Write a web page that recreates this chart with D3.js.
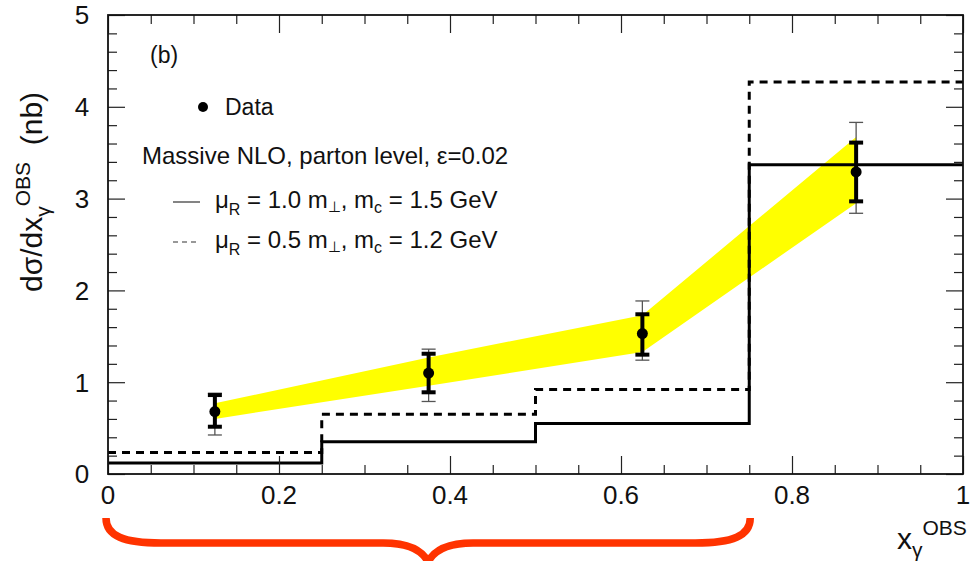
<!DOCTYPE html>
<html>
<head>
<meta charset="utf-8">
<script src="https://cdn.jsdelivr.net/npm/d3@7"></script>
<style>
  body { margin: 0; background: #fff; }
  text { font-family: "Liberation Sans", Arial, sans-serif; fill: #111; }
</style>
</head>
<body>
<div id="chart"></div>
<script>
// bin edges and theory histograms (massive NLO)
var binEdges = [0, 0.25, 0.5, 0.75, 1];
var nloSolid = [0.12, 0.35, 0.55, 3.37];   // mu_R = 1.0 m_T, m_c = 1.5 GeV
var nloDashed = [0.235, 0.65, 0.92, 4.27]; // mu_R = 0.5 m_T, m_c = 1.2 GeV

// data points
var dataX = [0.125, 0.375, 0.625, 0.875];
var dataY = [0.68, 1.10, 1.53, 3.29];
var statLo = [0.515, 0.89, 1.30, 2.97];
var statHi = [0.86, 1.31, 1.74, 3.61];
var totLo = [0.425, 0.79, 1.24, 2.84];
var totHi = [0.88, 1.36, 1.885, 3.83];

// yellow band
var bandLo = [0.60, 0.96, 1.33, 2.95];
var bandHi = [0.77, 1.27, 1.73, 3.67];

var xTicks = [0, 0.2, 0.4, 0.6, 0.8, 1];
var yTicks = [0, 1, 2, 3, 4, 5];

var W = 975, H = 561;
var margin = { top: 15, right: 12, bottom: 87, left: 108 };
var width = W - margin.left - margin.right,
    height = H - margin.top - margin.bottom;

var svg = d3.select("#chart").append("svg")
    .attr("width", W)
    .attr("height", H);

var g = svg.append("g")
    .attr("transform", "translate(" + margin.left + "," + margin.top + ")");

var x = d3.scaleLinear().domain([0, 1]).range([0, width]);
var y = d3.scaleLinear().domain([0, 5]).range([height, 0]);

// band
var band = d3.area()
    .x(function(d, i) { return x(dataX[i]); })
    .y0(function(d, i) { return y(bandLo[i]); })
    .y1(function(d, i) { return y(bandHi[i]); });

g.append("path")
    .datum(dataX)
    .attr("d", band)
    .attr("fill", "#ffff00");

// histograms
var step = d3.line()
    .curve(d3.curveStepAfter)
    .x(function(d) { return x(d[0]); })
    .y(function(d) { return y(d[1]); });

function histPoints(vals) {
    var pts = vals.map(function(v, i) { return [binEdges[i], v]; });
    pts.push([binEdges[binEdges.length - 1], vals[vals.length - 1]]);
    return pts;
}

g.append("path")
    .datum(histPoints(nloDashed))
    .attr("d", step)
    .attr("fill", "none")
    .attr("stroke", "#000")
    .attr("stroke-width", 3)
    .attr("stroke-dasharray", "8,6");

g.append("path")
    .datum(histPoints(nloSolid))
    .attr("d", step)
    .attr("fill", "none")
    .attr("stroke", "#000")
    .attr("stroke-width", 3);

// axes (ticks inside on all four sides)
var xMinor = d3.range(0, 1.0001, 0.05);
var yMinor = d3.range(0, 5.0001, 0.2);

function isMajor(v, step) { return Math.abs(v / step - Math.round(v / step)) < 1e-6; }

g.append("g")
    .attr("transform", "translate(0," + height + ")")
    .call(d3.axisBottom(x).tickValues(xMinor).tickSizeInner(0).tickSizeOuter(0).tickFormat(""))
    .call(function(a) {
        a.selectAll(".tick line")
            .attr("y2", function(d) { return isMajor(d, 0.2) ? -18 : -9; })
            .attr("stroke", "#222").attr("stroke-width", 1.2);
        a.select(".domain").remove();
    });

g.append("g")
    .call(d3.axisTop(x).tickValues(xMinor).tickSizeInner(0).tickSizeOuter(0).tickFormat(""))
    .call(function(a) {
        a.selectAll(".tick line")
            .attr("y2", function(d) { return isMajor(d, 0.2) ? 18 : 9; })
            .attr("stroke", "#222").attr("stroke-width", 1.2);
        a.select(".domain").remove();
    });

g.append("g")
    .call(d3.axisLeft(y).tickValues(yMinor).tickSizeInner(0).tickSizeOuter(0).tickFormat(""))
    .call(function(a) {
        a.selectAll(".tick line")
            .attr("x2", function(d) { return isMajor(d, 1) ? 17 : 9; })
            .attr("stroke", "#222").attr("stroke-width", 1.2);
        a.select(".domain").remove();
    });

g.append("g")
    .attr("transform", "translate(" + width + ",0)")
    .call(d3.axisRight(y).tickValues(yMinor).tickSizeInner(0).tickSizeOuter(0).tickFormat(""))
    .call(function(a) {
        a.selectAll(".tick line")
            .attr("x2", function(d) { return isMajor(d, 1) ? -17 : -9; })
            .attr("stroke", "#222").attr("stroke-width", 1.2);
        a.select(".domain").remove();
    });

// frame
g.append("rect")
    .attr("width", width)
    .attr("height", height)
    .attr("fill", "none")
    .attr("stroke", "#111")
    .attr("stroke-width", 1.8);

// tick labels
g.selectAll(".xlab")
    .data(xTicks)
    .enter().append("text")
    .attr("class", "xlab")
    .attr("x", function(d) { return x(d); })
    .attr("y", height + 30)
    .attr("text-anchor", "middle")
    .style("font-size", "26px")
    .text(function(d) { return d; });

g.selectAll(".ylab")
    .data(yTicks)
    .enter().append("text")
    .attr("class", "ylab")
    .attr("x", -26)
    .attr("y", function(d) { return y(d); })
    .attr("dy", "0.36em")
    .attr("text-anchor", "middle")
    .style("font-size", "26px")
    .text(function(d) { return d; });

// error bars
var errs = g.append("g");
dataX.forEach(function(xv, i) {
    var cx = x(xv);
    // total (thin grey)
    errs.append("line").attr("x1", cx).attr("x2", cx)
        .attr("y1", y(totLo[i])).attr("y2", y(totHi[i]))
        .attr("stroke", "#555").attr("stroke-width", 1.3);
    [totLo[i], totHi[i]].forEach(function(v) {
        errs.append("line").attr("x1", cx - 7).attr("x2", cx + 7)
            .attr("y1", y(v)).attr("y2", y(v))
            .attr("stroke", "#555").attr("stroke-width", 1.3);
    });
    // statistical (thick black)
    errs.append("line").attr("x1", cx).attr("x2", cx)
        .attr("y1", y(statLo[i])).attr("y2", y(statHi[i]))
        .attr("stroke", "#000").attr("stroke-width", 4);
    [statLo[i], statHi[i]].forEach(function(v) {
        errs.append("line").attr("x1", cx - 7).attr("x2", cx + 7)
            .attr("y1", y(v)).attr("y2", y(v))
            .attr("stroke", "#000").attr("stroke-width", 4);
    });
    errs.append("circle").attr("cx", cx).attr("cy", y(dataY[i]))
        .attr("r", 5.5).attr("fill", "#000");
});

// legend
var leg = svg.append("g");
leg.append("text").attr("x", 150).attr("y", 63).style("font-size", "23px").text("(b)");
leg.append("circle").attr("cx", 203).attr("cy", 107).attr("r", 5).attr("fill", "#000");
leg.append("text").attr("x", 225).attr("y", 115).style("font-size", "23px").text("Data");
leg.append("text").attr("x", 142).attr("y", 164).style("font-size", "24px")
    .text("Massive NLO, parton level, \u03b5=0.02");

function legLine(yy, txt1, txt2, dashed) {
    leg.append("line").attr("x1", 173).attr("x2", 200).attr("y1", yy).attr("y2", yy)
        .attr("stroke", "#333").attr("stroke-width", 1.2)
        .attr("stroke-dasharray", dashed ? "5,4" : null);
    var t = leg.append("text").attr("x", 215).attr("y", yy + 6).style("font-size", "24px");
    t.append("tspan").text("\u03bc");
    t.append("tspan").attr("dy", 7).style("font-size", "16px").text("R");
    t.append("tspan").attr("dy", -7).text(" = " + txt1 + " m");
    t.append("tspan").attr("dy", 4).style("font-size", "15px").text("\u22a5");
    t.append("tspan").attr("dy", -4).text(", m");
    t.append("tspan").attr("dy", 5).style("font-size", "16px").text("c");
    t.append("tspan").attr("dy", -5).text(" = " + txt2 + " GeV");
}
legLine(202, "1.0", "1.5", false);
legLine(242, "0.5", "1.2", true);

// y axis title
var yt = svg.append("text")
    .attr("transform", "translate(42,292) rotate(-90)")
    .style("font-size", "30px");
yt.append("tspan").text("d\u03c3/dx");
yt.append("tspan").attr("dy", 8).style("font-size", "21px").text("\u03b3");
yt.append("tspan").attr("dy", -20).style("font-size", "21px").text("OBS");
yt.append("tspan").attr("dy", 12).text("\u00a0\u00a0(nb)");

// x axis title
var xt = svg.append("text")
    .attr("x", 897).attr("y", 549)
    .style("font-size", "30px");
xt.append("tspan").text("x");
xt.append("tspan").attr("dy", 8).style("font-size", "21px").text("\u03b3");
xt.append("tspan").attr("dy", -22).style("font-size", "21px").text("OBS");

// red brace under the low-x region
var bx0 = margin.left + x(0) - 2,
    bx1 = margin.left + x(0.75) + 1,
    bm = (bx0 + bx1) / 2;
var brace = d3.path();
brace.moveTo(bx0, 518);
brace.bezierCurveTo(bx0, 536, bx0 + 18, 543, bx0 + 55, 543);
brace.lineTo(bm - 45, 543);
brace.bezierCurveTo(bm - 20, 543, bm - 6, 550, bm, 562);
brace.bezierCurveTo(bm + 6, 550, bm + 20, 543, bm + 45, 543);
brace.lineTo(bx1 - 55, 543);
brace.bezierCurveTo(bx1 - 18, 543, bx1, 536, bx1, 518);
svg.append("path")
    .attr("d", brace.toString())
    .attr("fill", "none")
    .attr("stroke", "#ff3300")
    .attr("stroke-width", 7.5);
</script>
</body>
</html>
